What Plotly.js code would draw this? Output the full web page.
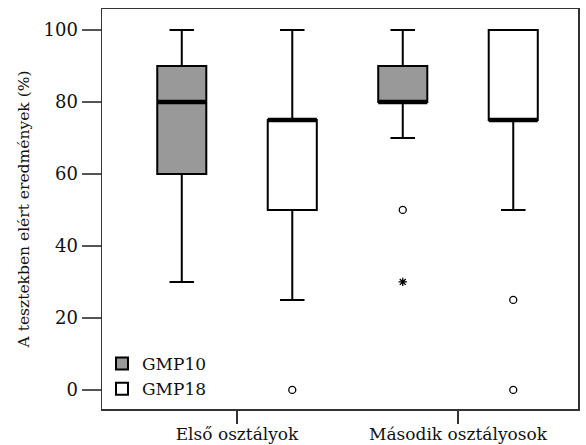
<!DOCTYPE html>
<html><head><meta charset="utf-8">
<script src="https://cdn.plot.ly/plotly-3.0.1.min.js"></script>
<style>html,body{margin:0;padding:0;background:#fff}</style>
</head><body>
<div id="chart" style="width:586px;height:445px"></div>
<script>
// ---- data ----
const categories = ["Első osztályok", "Második osztályosok"];
const seriesNames = ["GMP10", "GMP18"];
const gmp10_lower  = [30, 70];
const gmp10_q1     = [60, 80];
const gmp10_median = [80, 80];
const gmp10_q3     = [90, 90];
const gmp10_upper  = [100, 100];
const gmp18_lower  = [25, 50];
const gmp18_q1     = [50, 75];
const gmp18_median = [75, 75];
const gmp18_q3     = [75, 100];
const gmp18_upper  = [100, 100];
// outliers: [category index, value, kind]  kind: 'o' = outlier, '*' = extreme
const gmp10_outliers = [[1, 50, "o"], [1, 30, "*"]];
const gmp18_outliers = [[0, 0, "o"], [1, 25, "o"], [1, 0, "o"]];
const yTicks = [0, 20, 40, 60, 80, 100];

// ---- styling ----
const serif = "DejaVu Serif, Liberation Serif, serif";
const fills = ["#999999", "#ffffff"];
const groupOffset = [-0.25, 0.25];
const halfWidth = 0.111;
const xRange = [-0.611, 1.543];

const stats = [
  {lower: gmp10_lower, q1: gmp10_q1, med: gmp10_median, q3: gmp10_q3, upper: gmp10_upper, out: gmp10_outliers},
  {lower: gmp18_lower, q1: gmp18_q1, med: gmp18_median, q3: gmp18_q3, upper: gmp18_upper, out: gmp18_outliers}
];

const traces = [];
stats.forEach((s, k) => {
  traces.push({
    type: "box", name: seriesNames[k], x: categories,
    q1: s.q1, median: s.med, q3: s.q3, lowerfence: s.lower, upperfence: s.upper,
    fillcolor: fills[k], line: {color: "#000", width: 2},
    whiskerwidth: 0.5, boxpoints: false, hoverinfo: "skip"
  });
});
// thick median bars and outliers on an overlaid numeric axis aligned with categories
stats.forEach((s, k) => {
  const mx = [], my = [];
  s.med.forEach((m, i) => {
    mx.push(i + groupOffset[k] - halfWidth, i + groupOffset[k] + halfWidth, null);
    my.push(m, m, null);
  });
  traces.push({type: "scatter", mode: "lines", x: mx, y: my, xaxis: "x2",
    line: {color: "#000", width: 4.5}, showlegend: false, hoverinfo: "skip"});
  traces.push({type: "scatter", mode: "markers", xaxis: "x2",
    x: s.out.map(o => o[0] + groupOffset[k]), y: s.out.map(o => o[1]),
    marker: {symbol: s.out.map(o => o[2] === "*" ? "asterisk-open" : "circle-open"),
             size: 7, color: "#000", line: {color: "#000", width: 1.3}},
    showlegend: false, hoverinfo: "skip"});
});

const layout = {
  width: 586, height: 445,
  margin: {l: 102, r: 8, t: 9, b: 36},
  paper_bgcolor: "#fff", plot_bgcolor: "#fff",
  boxmode: "group", boxgap: 0, boxgroupgap: 0.556,
  showlegend: true,
  legend: {x: 0.0, y: 0.005, xanchor: "left", yanchor: "bottom", bgcolor: "rgba(0,0,0,0)",
           font: {family: serif, size: 17, color: "#111"}, tracegroupgap: 0, itemwidth: 30},
  font: {family: serif, color: "#111"},
  xaxis: {type: "category", range: xRange, showgrid: false, zeroline: false,
          showline: true, mirror: true, linecolor: "#333", linewidth: 1.5,
          ticks: "outside", ticklen: 13, tickwidth: 1.5, tickcolor: "#333",
          ticklabelstandoff: -4,
          tickfont: {family: serif, size: 17, color: "#111"}, fixedrange: true},
  xaxis2: {overlaying: "x", range: xRange, visible: false, fixedrange: true},
  yaxis: {range: [-5.3, 105.8], tickvals: yTicks, showgrid: false, zeroline: false,
          showline: true, mirror: true, linecolor: "#333", linewidth: 1.5,
          ticks: "outside", ticklen: 19, tickwidth: 1.5, tickcolor: "#555",
          tickfont: {family: serif, size: 18, color: "#111"},
          title: {text: "A tesztekben elért eredmények (%)", font: {family: serif, size: 15.5, color: "#111"}, standoff: 10},
          fixedrange: true}
};
Plotly.newPlot("chart", traces, layout, {displayModeBar: false, staticPlot: true});
</script>
</body></html>
